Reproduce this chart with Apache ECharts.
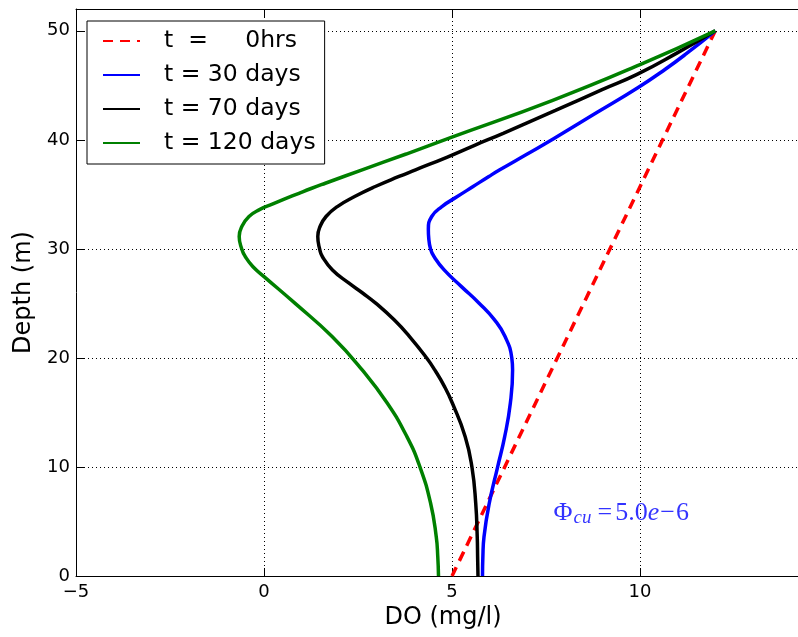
<!DOCTYPE html>
<html>
<head>
<meta charset="utf-8">
<script src="https://cdn.jsdelivr.net/npm/echarts@6/dist/echarts.min.js"></script>
<style>
  html, body { margin: 0; padding: 0; background: #fff; }
  #chart { width: 798px; height: 637px; }
</style>
</head>
<body>
<div id="chart"></div>
<script>
// Dissolved-oxygen profiles: each point is [DO (mg/l), depth (m)]
const profile0hrs = [[5.0, 0], [12.0, 50]];

const profile30d = [
  [5.81, 0], [5.82, 1.8], [5.85, 3.6], [5.99, 6.67], [6.21, 9.97], [6.40, 12.78],
  [6.55, 15.84], [6.61, 18.9], [6.59, 19.97], [6.41, 21.96], [6.13, 23.49],
  [5.72, 25.02], [5.25, 26.54], [4.79, 28.07], [4.52, 29.3], [4.43, 29.97],
  [4.38, 31.0], [4.37, 31.8], [4.46, 32.97], [4.73, 33.88], [5.14, 34.8],
  [5.56, 35.72], [5.98, 36.64], [6.27, 37.25], [7.00, 38.7], [7.70, 40.1],
  [8.85, 42.5], [9.95, 44.8], [10.68, 46.5], [11.23, 47.9], [12.0, 50]
];

const profile70d = [
  [5.69, 0], [5.68, 1.8], [5.67, 3.6], [5.63, 6.67], [5.53, 9.97], [5.35, 12.78],
  [5.01, 15.84], [4.80, 17.37], [4.54, 18.9], [4.33, 19.97], [3.87, 21.96],
  [3.46, 23.49], [2.97, 25.02], [2.63, 25.93], [2.26, 26.85], [1.82, 28.07],
  [1.55, 29.3], [1.48, 29.97], [1.43, 31.13], [1.49, 32.05], [1.65, 32.97],
  [1.95, 33.88], [2.41, 34.8], [2.96, 35.72], [3.59, 36.64], [4.03, 37.25],
  [4.86, 38.4], [5.60, 39.5], [6.36, 40.6], [7.75, 42.7], [8.99, 44.6],
  [9.92, 46.0], [11.0, 48.0], [12.0, 50]
];

const profile120d = [
  [4.64, 0], [4.62, 1.8], [4.58, 3.6], [4.43, 6.67], [4.15, 9.97], [3.80, 12.78],
  [3.28, 15.84], [2.61, 18.9], [1.81, 21.96], [0.82, 25.02], [0.0, 27.46],
  [-0.30, 28.38], [-0.50, 29.3], [-0.59, 29.97], [-0.66, 31.13], [-0.59, 32.05],
  [-0.40, 32.97], [-0.12, 33.6], [0.22, 34.1], [0.57, 34.6], [0.93, 35.1],
  [1.27, 35.56], [1.63, 36.02], [2.61, 37.25], [3.78, 38.7], [4.96, 40.2],
  [7.66, 43.6], [10.0, 46.9], [12.0, 50]
];

const seriesNames = ['t  =     0hrs', 't = 30 days', 't = 70 days', 't = 120 days'];
const seriesColors = ['#ff0000', '#0000ff', '#000000', '#008000'];
const annotationPoint = [[7.7, 5.8]];

const xRange = { min: -5, max: 14.2, step: 5 };
const yRange = { min: 0, max: 52, step: 10 };

const FONT = 'DejaVu Sans';
const SERIF = 'Liberation Serif';
const chart = echarts.init(document.getElementById('chart'), null, { renderer: 'canvas' });

const minusFmt = v => String(v).replace('-', '\u2212');

function profileSeries(name, data, color, dashed) {
  return {
    name: name,
    type: 'line',
    data: data,
    smooth: 0.5,
    symbol: 'none',
    lineStyle: { color: color, width: 3.5, type: dashed ? [10, 7] : 'solid', cap: 'butt' },
    itemStyle: { color: color },
    z: 3
  };
}

const option = {
  backgroundColor: '#fff',
  animation: false,
  textStyle: { fontFamily: FONT },
  grid: { left: 76, top: 9, right: 0, bottom: 61, containLabel: false },
  legend: {
    orient: 'vertical',
    left: 87,
    top: 21,
    padding: [8, 9, 9, 15],
    itemWidth: 37,
    itemHeight: 24,
    itemGap: 10,
    backgroundColor: '#fff',
    borderColor: '#000',
    borderWidth: 1,
    borderRadius: 0,
    itemStyle: { opacity: 0 },
    textStyle: { fontFamily: FONT, fontSize: 23.5, color: '#000', padding: [0, 0, 0, 19], lineHeight: 24 },
    data: seriesNames,
    z: 10
  },
  xAxis: [
    {
      type: 'value', min: xRange.min, max: xRange.max, interval: xRange.step,
      name: 'DO (mg/l)', nameLocation: 'middle', nameGap: 27,
      nameTextStyle: { fontFamily: FONT, fontSize: 24, color: '#000', padding: [0, 0, 0, 12] },
      axisLine: { show: true, onZero: false, lineStyle: { color: '#000', width: 1 } },
      axisTick: { show: true, inside: true, length: 8, lineStyle: { color: '#000' } },
      axisLabel: { fontFamily: FONT, fontSize: 18, color: '#000', margin: 7, showMaxLabel: false, formatter: minusFmt },
      splitLine: { show: true, lineStyle: { color: '#000', width: 1, type: [1, 3] } }
    },
    {
      type: 'value', position: 'top', min: xRange.min, max: xRange.max, interval: xRange.step,
      axisLine: { show: true, onZero: false, lineStyle: { color: '#000', width: 1 } },
      axisTick: { show: true, inside: true, length: 8, lineStyle: { color: '#000' } },
      axisLabel: { show: false },
      splitLine: { show: false }
    }
  ],
  yAxis: {
    type: 'value', min: yRange.min, max: yRange.max, interval: yRange.step,
    name: 'Depth (m)', nameLocation: 'middle', nameGap: 40,
    nameTextStyle: { fontFamily: FONT, fontSize: 24, color: '#000' },
    axisLine: { show: true, onZero: false, lineStyle: { color: '#000', width: 1 } },
    axisTick: { show: true, inside: true, length: 8, lineStyle: { color: '#000' } },
    axisLabel: { fontFamily: FONT, fontSize: 18, color: '#000', margin: 6, showMaxLabel: false },
    splitLine: { show: true, lineStyle: { color: '#000', width: 1, type: [1, 3] } }
  },
  series: [
    profileSeries(seriesNames[0], profile0hrs, seriesColors[0], true),
    profileSeries(seriesNames[1], profile30d, seriesColors[1], false),
    profileSeries(seriesNames[2], profile70d, seriesColors[2], false),
    profileSeries(seriesNames[3], profile120d, seriesColors[3], false),
    {
      // Parameter annotation in the lower right of the plot
      type: 'scatter',
      data: annotationPoint,
      symbolSize: 0,
      silent: true,
      label: {
        show: true,
        position: 'right',
        distance: 0,
        color: '#0000ff',
        formatter: '{phi|\u03a6}{sub|cu}{eq|=}{n|5.0}{it|e}{mi|\u2212}{n|6}',
        rich: {
          phi: { fontFamily: SERIF, fontSize: 26, color: '#0000ff', lineHeight: 30 },
          sub: { fontFamily: SERIF, fontStyle: 'italic', fontSize: 19, color: '#0000ff', lineHeight: 30, verticalAlign: 'bottom', padding: [10, 0, 0, 1] },
          eq: { fontFamily: SERIF, fontSize: 26, color: '#0000ff', lineHeight: 30, padding: [0, 3, 0, 6] },
          n: { fontFamily: SERIF, fontSize: 26, color: '#0000ff', lineHeight: 30 },
          it: { fontFamily: SERIF, fontStyle: 'italic', fontSize: 26, color: '#0000ff', lineHeight: 30 },
          mi: { fontFamily: SERIF, fontSize: 26, color: '#0000ff', lineHeight: 30, padding: [0, 1, 0, 1] }
        }
      }
    }
  ]
};

chart.setOption(option);
</script>
</body>
</html>
